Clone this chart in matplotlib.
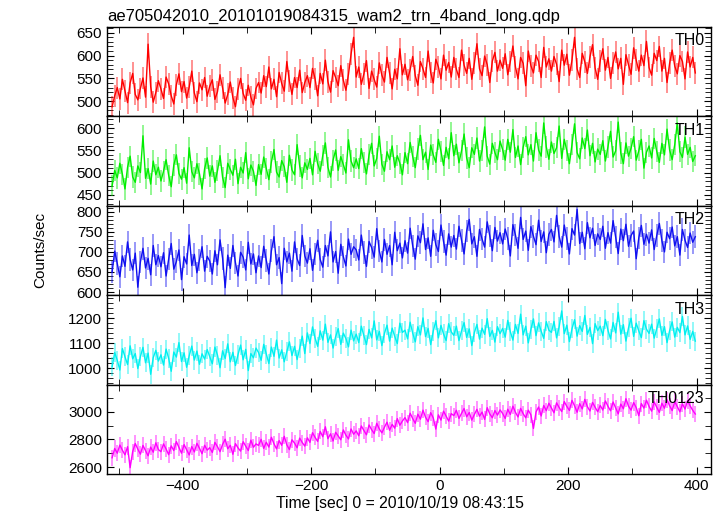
import numpy as np
import matplotlib.pyplot as plt
from matplotlib.ticker import MultipleLocator

plt.rcParams['font.family'] = ['Liberation Sans', 'DejaVu Sans']

title = 'ae705042010_20101019084315_wam2_trn_4band_long.qdp'
xlabel = 'Time [sec] 0 = 2010/10/19 08:43:15'
ylabel = 'Counts/sec'

# time bins (sec), 4 s step from -510 to 398
t_start, t_step = -510, 4

names = ['TH0', 'TH1', 'TH2', 'TH3', 'TH0123']
colors = ['#ff0000', '#00ee00', '#1010f0', '#00f0f0', '#ff00ff']

th0 = [488, 512, 530, 505, 548, 522, 497, 540, 561, 515, 503, 528, 551, 509, 625, 532, 498, 519, 545,
       527, 506, 553, 538, 512, 494, 536, 560, 521, 543, 507, 531, 566, 518, 499, 540, 525, 552, 511,
       533, 547, 504, 521, 558, 529, 496, 515, 542, 508, 488, 526, 550, 517, 502, 535, 509, 492, 528,
       541, 518, 556, 532, 575, 527, 548, 510, 563, 539, 522, 587, 544, 515, 552, 530, 568, 519, 541,
       556, 530, 572, 549, 512, 561, 538, 590, 543, 520, 567, 552, 534, 578, 546, 524, 559, 603, 640,
       553, 575, 537, 560, 589, 528, 566, 548, 531, 584, 557, 542, 596, 561, 527, 570, 549, 615, 558,
       581, 547, 569, 598, 556, 535, 587, 571, 552, 610, 563, 540, 592, 575, 549, 601, 568, 585, 553,
       596, 570, 552, 612, 579, 561, 594, 548, 583, 626, 571, 556, 599, 580, 541, 588, 607, 566, 590,
       572, 604, 558, 587, 621, 575, 549, 596, 583, 534, 610, 578, 562, 601, 587, 552, 618, 575, 593,
       566, 598, 581, 543, 612, 579, 603, 557, 590, 640, 571, 552, 605, 586, 561, 597, 624, 573, 548,
       589, 615, 568, 596, 550, 583, 608, 571, 594, 537, 602, 580, 559, 617, 590, 566, 601, 578, 631,
       574, 557, 605, 589, 620, 566, 594, 541, 583, 612, 577, 560, 600, 587, 549, 608, 575, 596, 562]

th1 = [470, 505, 488, 521, 496, 463, 512, 537, 490, 478, 515, 500, 583, 487, 509, 474, 526, 495, 512,
       481, 503, 529, 494, 468, 517, 540, 498, 485, 511, 476, 556, 502, 488, 520, 497, 463, 509, 533,
       492, 515, 478, 504, 538, 489, 466, 521, 507, 494, 530, 475, 512, 499, 545, 486, 517, 503, 471,
       518, 496, 535, 509, 484, 524, 552, 501, 490, 527, 513, 478, 539, 506, 495, 563, 515, 488, 522,
       507, 532, 495, 548, 520, 503, 539, 567, 512, 490, 528, 551, 505, 536, 518, 499, 574, 526, 511,
       531, 509, 554, 523, 497, 540, 566, 515, 532, 582, 519, 503, 547, 529, 560, 512, 538, 521, 495,
       545, 520, 568, 536, 511, 553, 584, 529, 546, 507, 562, 540, 523, 575, 548, 516, 557, 531, 590,
       538, 564, 522, 549, 587, 533, 511, 556, 541, 578, 526, 550, 603, 537, 519, 566, 545, 529, 571,
       552, 528, 575, 546, 597, 534, 560, 518, 557, 581, 540, 563, 526, 590, 551, 537, 612, 558, 530,
       569, 543, 556, 605, 532, 575, 549, 520, 563, 610, 545, 531, 578, 554, 596, 538, 566, 524, 553,
       541, 572, 526, 558, 593, 535, 549, 614, 544, 520, 567, 537, 555, 581, 528, 549, 575, 510, 546,
       560, 533, 577, 548, 523, 566, 540, 598, 551, 529, 563, 612, 547, 534, 580, 541, 557, 525, 538]

th2 = [650, 702, 671, 638, 690, 664, 725, 681, 655, 697, 612, 675, 709, 660, 684, 643, 716, 668, 691,
       663, 698, 640, 682, 721, 657, 676, 705, 631, 688, 670, 742, 666, 694, 648, 680, 713, 652, 689,
       677, 645, 703, 668, 730, 684, 611, 692, 659, 716, 673, 640, 699, 687, 655, 724, 670, 695, 648,
       690, 661, 714, 679, 645, 703, 738, 668, 686, 621, 709, 675, 697, 652, 725, 683, 666, 741, 690,
       672, 708, 654, 695, 729, 681, 662, 716, 690, 750, 675, 701, 647, 719, 688, 665, 732, 694, 713,
       705, 680, 742, 698, 664, 726, 711, 687, 758, 702, 675, 731, 694, 716, 668, 749, 703, 722, 685,
       728, 697, 759, 715, 682, 740, 723, 770, 706, 735, 689, 754, 718, 701, 767, 726, 692, 745, 712,
       741, 707, 764, 729, 695, 752, 781, 720, 738, 689, 756, 732, 712, 775, 740, 703, 761, 727, 748,
       720, 757, 733, 690, 768, 742, 709, 786, 731, 752, 704, 763, 739, 718, 779, 726, 750, 698, 744,
       756, 725, 791, 739, 712, 767, 733, 695, 758, 742, 806, 721, 749, 708, 773, 735, 759, 716, 745,
       731, 764, 709, 748, 722, 778, 737, 696, 757, 728, 769, 714, 741, 752, 683, 735, 766, 719, 744,
       722, 755, 706, 741, 771, 728, 700, 749, 733, 762, 715, 738, 692, 756, 729, 711, 747, 724, 738]

th3 = [1005, 1062, 1031, 992, 1078, 1045, 1014, 1089, 1037, 1058, 998, 1046, 1083, 1021, 1060, 975, 1042, 1071, 1028,
       1053, 1012, 1076, 1039, 987, 1064, 1044, 1102, 1026, 1061, 1003, 1049, 1088, 1032, 1068, 1015, 1057, 1036, 1074,
       1046, 1017, 1084, 1052, 1001, 1069, 1038, 1097, 1025, 1063, 1010, 1054, 1092, 1033, 1075, 990, 1058, 1041, 1080,
       1062, 1031, 1095, 1056, 1018, 1084, 1047, 1112, 1040, 1073, 1025, 1066, 1105, 1050, 1087, 1034, 1079, 1128, 1058,
       1141, 1098, 1165, 1120, 1087, 1149, 1112, 1176, 1103, 1133, 1080, 1126, 1158, 1095, 1140, 1118, 1085, 1152, 1109,
       1136, 1102, 1168, 1129, 1094, 1155, 1121, 1189, 1113, 1147, 1090, 1139, 1172, 1108, 1160, 1127, 1098, 1180, 1143,
       1152, 1117, 1184, 1140, 1105, 1166, 1133, 1201, 1126, 1159, 1094, 1148, 1190, 1121, 1171, 1137, 1110, 1178, 1145,
       1131, 1168, 1110, 1149, 1182, 1123, 1157, 1090, 1142, 1175, 1116, 1160, 1135, 1198, 1127, 1151, 1104, 1166, 1138,
       1159, 1124, 1191, 1146, 1112, 1175, 1139, 1216, 1133, 1168, 1101, 1155, 1197, 1130, 1181, 1148, 1119, 1186, 1152,
       1143, 1187, 1121, 1165, 1229, 1138, 1172, 1106, 1157, 1194, 1128, 1170, 1147, 1211, 1135, 1163, 1098, 1178, 1150,
       1168, 1130, 1195, 1152, 1117, 1183, 1141, 1224, 1136, 1174, 1108, 1161, 1200, 1127, 1180, 1149, 1122, 1190, 1156,
       1139, 1176, 1120, 1158, 1197, 1131, 1166, 1102, 1150, 1185, 1124, 1163, 1142, 1207, 1133, 1169, 1115, 1147, 1108]

th0123 = [2668, 2735, 2701, 2760, 2722, 2689, 2748, 2596, 2713, 2771, 2730, 2694, 2757, 2719, 2682, 2745, 2708, 2776, 2727,
          2712, 2768, 2731, 2690, 2754, 2720, 2785, 2742, 2701, 2763, 2725, 2688, 2749, 2710, 2772, 2736, 2697, 2758, 2723,
          2741, 2706, 2779, 2748, 2712, 2765, 2802, 2733, 2758, 2693, 2770, 2739, 2716, 2784, 2752, 2720, 2795, 2744, 2768,
          2757, 2801, 2736, 2780, 2745, 2816, 2769, 2732, 2792, 2758, 2823, 2761, 2727, 2798, 2774, 2740, 2810, 2778, 2752,
          2812, 2779, 2849, 2815, 2786, 2858, 2820, 2892, 2806, 2841, 2789, 2852, 2825, 2798, 2869, 2831, 2804, 2876, 2838,
          2862, 2827, 2898, 2865, 2834, 2905, 2871, 2843, 2917, 2876, 2848, 2889, 2925, 2867, 2909, 2882, 2951, 2903, 2934,
          2958, 2922, 2990, 2951, 2917, 2983, 2947, 3012, 2961, 2929, 2994, 2956, 2875, 2978, 2940, 3005, 2969, 2933, 2987,
          2973, 3011, 2952, 2989, 3024, 2964, 2995, 2940, 2981, 3018, 2968, 2998, 2945, 3030, 2985, 2957, 3009, 2976, 3014,
          2988, 2952, 3019, 2981, 3041, 2996, 2963, 3025, 2986, 2957, 3012, 2978, 2880, 2999, 3035, 2970, 3046, 3008, 3062,
          3028, 2993, 3065, 3031, 3002, 3074, 3039, 3010, 3083, 3044, 2997, 3059, 3021, 3090, 3037, 3006, 3068, 3033, 3001,
          3046, 3013, 3079, 3040, 3008, 3071, 3029, 2985, 3056, 3022, 3095, 3041, 3012, 3067, 3030, 2972, 3060, 3027, 3084,
          3039, 3005, 3072, 3033, 2996, 3062, 3026, 3088, 3044, 3009, 3075, 3038, 3000, 3058, 3020, 3081, 3043, 3011, 2984]

series = [th0, th1, th2, th3, th0123]
errors = [24, 24, 28, 38, 58]  # typical 1-sigma bar per bin

ylims = [(467, 663), (425, 627), (592, 815), (933, 1292), (2549, 3196)]
ymajor = [50, 50, 50, 100, 200]
yminor = [10, 10, 10, 20, 100]

fig, axes = plt.subplots(5, 1, sharex=True, figsize=(7.23, 5.16), dpi=100)
fig.subplots_adjust(left=0.148, right=0.983, top=0.948, bottom=0.081, hspace=0)

for i, ax in enumerate(axes):
    y = np.array(series[i], dtype=float)
    t = t_start + t_step * np.arange(len(y))
    ax.errorbar(t, y, yerr=errors[i], fmt='none', ecolor=colors[i], alpha=0.5, elinewidth=1.2)
    ax.plot(t, y, color=colors[i], lw=1.0)
    ax.set_ylim(*ylims[i])
    ax.yaxis.set_major_locator(MultipleLocator(ymajor[i]))
    ax.yaxis.set_minor_locator(MultipleLocator(yminor[i]))
    ax.xaxis.set_major_locator(MultipleLocator(200))
    ax.xaxis.set_minor_locator(MultipleLocator(100))
    ax.tick_params(which='both', direction='in', top=True, right=True, labelsize=11)
    ax.tick_params(which='major', length=5)
    ax.tick_params(which='minor', length=4)
    ax.text(0.99, 0.93, names[i], transform=ax.transAxes, ha='right', va='top', fontsize=11.5)
    for s in ax.spines.values():
        s.set_linewidth(1.0)

axes[0].set_xlim(-518, 422)
axes[0].set_title(title, loc='left', fontsize=12, pad=4)
axes[-1].set_xlabel(xlabel, fontsize=11.3, labelpad=2, x=0.485)
fig.text(0.055, 0.515, ylabel, rotation=90, ha='center', va='center', fontsize=11)

fig.savefig('out.png')
